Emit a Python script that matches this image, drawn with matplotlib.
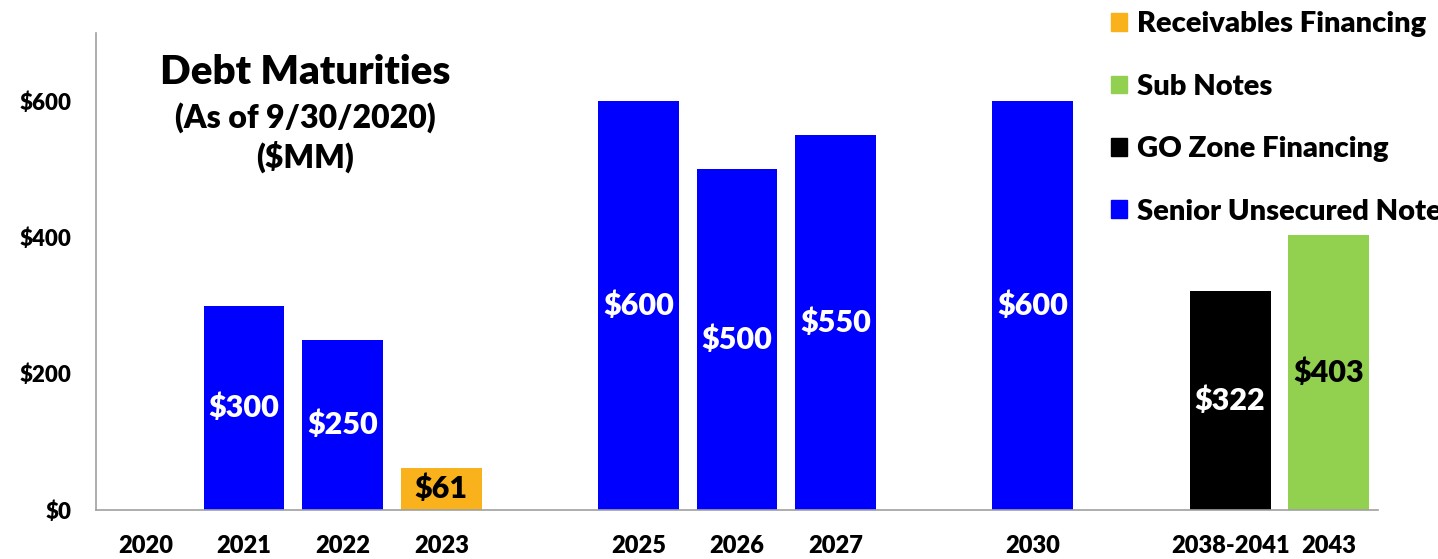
import matplotlib.pyplot as plt
from matplotlib.patches import Patch

# category slots, '' = empty gap on the axis
years = ['2020', '2021', '2022', '2023', '', '2025', '2026', '2027', '', '2030', '', '2038-2041', '2043']
amounts = [0, 300, 250, 61, 0, 600, 500, 550, 0, 600, 0, 322, 403]
debt_type = ['', 'senior', 'senior', 'recv', '', 'senior', 'senior', 'senior', '', 'senior', '', 'go', 'sub']
labels = ['', '$300', '$250', '$61', '', '$600', '$500', '$550', '', '$600', '', '$322', '$403']

colors = {'senior': '#0000FF', 'recv': '#F9B21B', 'go': '#000000', 'sub': '#92D050', '': 'none'}
text_colors = {'senior': 'white', 'recv': 'black', 'go': 'white', 'sub': 'black', '': 'black'}
legend_names = [('recv', 'Receivables Financing'), ('sub', 'Sub Notes'),
                ('go', 'GO Zone Financing'), ('senior', 'Senior Unsecured Notes')]

plt.rcParams['font.family'] = ['Lato', 'DejaVu Sans']
W = 'heavy'

fig = plt.figure(figsize=(14.38, 5.59), dpi=100)
ax = fig.add_axes([0.0668, 0.0877, 0.8915, 0.853])

x = list(range(len(years)))
bars = ax.bar(x, amounts, width=0.82, color=[colors[t] for t in debt_type])
for i, b in enumerate(bars):
    if labels[i]:
        ax.text(b.get_x() + b.get_width() / 2, amounts[i] / 2, labels[i],
                ha='center', va='center', fontsize=22, fontweight=W,
                color=text_colors[debt_type[i]])

ax.set_xlim(-0.5, 12.5)
ax.set_ylim(0, 700)
ax.set_yticks([0, 200, 400, 600])
ax.set_yticklabels(['$0', '$200', '$400', '$600'], fontsize=16, fontweight=W)
ax.set_xticks(x)
ax.set_xticklabels(years, fontsize=17, fontweight=W)
ax.tick_params(axis='both', length=0)
ax.tick_params(axis='y', pad=18)
ax.tick_params(axis='x', pad=18)
for s in ['top', 'right']:
    ax.spines[s].set_visible(False)
for s in ['left', 'bottom']:
    ax.spines[s].set_color('#A0A0A0')
    ax.spines[s].set_linewidth(1.2)

fig.text(0.212, 0.87, 'Debt Maturities', ha='center', va='center', fontsize=29, fontweight=W)
fig.text(0.212, 0.79, '(As of 9/30/2020)', ha='center', va='center', fontsize=23, fontweight=W)
fig.text(0.212, 0.72, '($MM)', ha='center', va='center', fontsize=23, fontweight=W)

handles = [Patch(color=colors[k], label=n) for k, n in legend_names]
leg = ax.legend(handles=handles, loc='upper left', bbox_to_anchor=(0.754, 1.027),
                bbox_transform=fig.transFigure, frameon=False, fontsize=21,
                handlelength=0.55, handleheight=0.55, handletextpad=0.35, labelspacing=1.25)
for t in leg.get_texts():
    t.set_fontweight(W)

fig.savefig('out.png', dpi=100)
